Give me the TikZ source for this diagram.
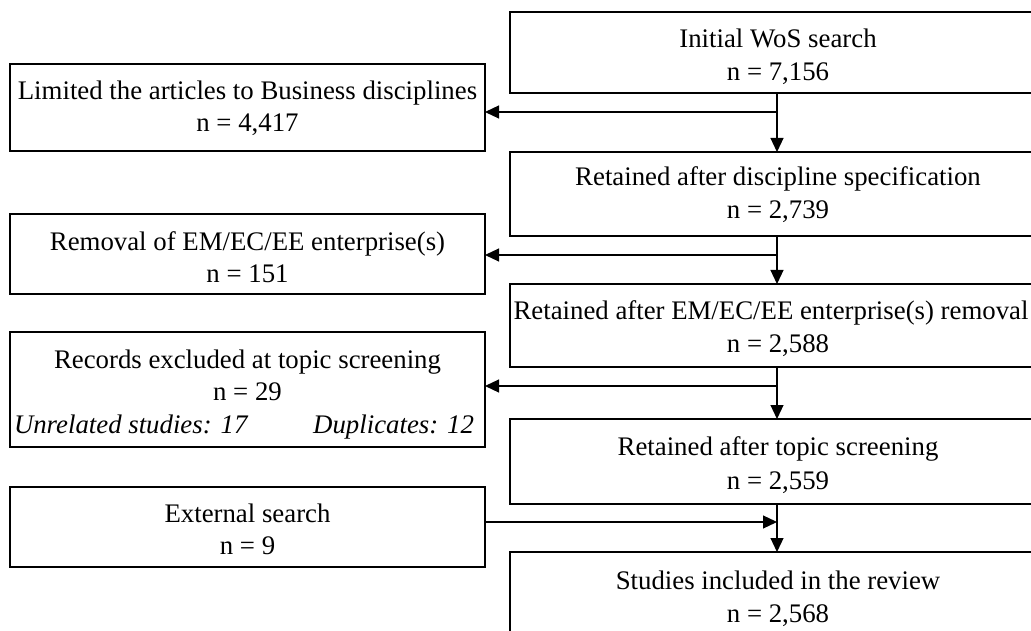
\documentclass[tikz,border=0pt]{standalone}
\usepackage{fontspec}
\setmainfont{Liberation Serif}
\usetikzlibrary{arrows.meta}
\begin{document}
\begin{tikzpicture}[x=1pt, y=-1pt,
  box/.style={draw=black, line width=1.2pt, inner sep=0pt, outer sep=0pt},
  rbox/.style={box, minimum width=534pt},
  lbox/.style={box, minimum width=475pt},
  txt/.style={inner sep=0pt, outer sep=0pt, anchor=base, font=\fontsize{26.8pt}{33pt}\selectfont},
  note/.style={txt, font=\fontsize{26.8pt}{33pt}\selectfont\itshape},
  flow/.style={line width=1.2pt, -{Triangle[length=14pt,width=13pt]}},
]
\useasboundingbox (0,0) rectangle (1031,631);
\clip (0,0) rectangle (1031,631);

% main column
\node[rbox, minimum height=81pt] (R1) at (777,52.5) {};
\node[rbox, minimum height=84pt] (R2) at (777,194) {};
\node[rbox, minimum height=83pt] (R3) at (777,325.5) {};
\node[rbox, minimum height=85pt] (R4) at (777,461.5) {};
\node[rbox, minimum height=81pt] (R5) at (777,592.5) {};

\node[txt] (R1a) at ([xshift=1pt,yshift=-36pt]R1.north) {Initial WoS search};
\node[txt] (R1b) at ([xshift=1pt,yshift=-69pt]R1.north) {n = 7,156};
\node[txt] (R2a) at ([xshift=1pt,yshift=-34pt]R2.north) {Retained after discipline specification};
\node[txt] (R2b) at ([xshift=1pt,yshift=-67pt]R2.north) {n = 2,739};
\node[txt] (R3a) at ([xshift=-6pt,yshift=-35pt]R3.north) {Retained after EM/EC/EE enterprise(s) removal};
\node[txt] (R3b) at ([xshift=1pt,yshift=-68pt]R3.north) {n = 2,588};
\node[txt] (R4a) at ([xshift=1pt,yshift=-36pt]R4.north) {Retained after topic screening};
\node[txt] (R4b) at ([xshift=1pt,yshift=-70pt]R4.north) {n = 2,559};
\node[txt] (R5a) at ([xshift=1pt,yshift=-37pt]R5.north) {Studies included in the review};
\node[txt] (R5b) at ([xshift=1pt,yshift=-70pt]R5.north) {n = 2,568};

% side column
\node[lbox, minimum height=87pt] (L1) at (247.5,107.5) {};
\node[lbox, minimum height=80pt] (L2) at (247.5,254) {};
\node[lbox, minimum height=115pt] (L3) at (247.5,389.5) {};
\node[lbox, minimum height=80pt] (L4) at (247.5,527) {};

\node[txt] (L1a) at ([yshift=-36pt]L1.north) {Limited the articles to Business disciplines};
\node[txt] (L1b) at ([yshift=-68pt]L1.north) {n = 4,417};
\node[txt] (L2a) at ([yshift=-37pt]L2.north) {Removal of EM/EC/EE enterprise(s)};
\node[txt] (L2b) at ([yshift=-68pt]L2.north) {n = 151};
\node[txt] (L3a) at ([yshift=-36pt]L3.north) {Records excluded at topic screening};
\node[txt] (L3b) at ([yshift=-68pt]L3.north) {n = 29};
\node[note, anchor=base west] (L3c) at ([xshift=4pt,yshift=-101pt]L3.north west) {Unrelated studies: 17};
\node[note, anchor=base east] (L3d) at ([xshift=-11pt,yshift=-101pt]L3.north east) {Duplicates: 12};
\node[txt] (L4a) at ([yshift=-35pt]L4.north) {External search};
\node[txt] (L4b) at ([yshift=-67pt]L4.north) {n = 9};

% branch points on the main line
\coordinate (j1) at (777,112);
\coordinate (j2) at (777,255);
\coordinate (j3) at (777,386);
\coordinate (j4) at (777,522);

% connectors
\draw[flow] (R1.south) -- (R2.north);
\draw[flow] (R2.south) -- (R3.north);
\draw[flow] (R3.south) -- (R4.north);
\draw[flow] (R4.south) -- (R5.north);

\draw[flow] (j1) -- (j1 -| L1.east);
\draw[flow] (j2) -- (j2 -| L2.east);
\draw[flow] (j3) -- (j3 -| L3.east);
\draw[flow] (L4.east |- j4) -- (j4);
\end{tikzpicture}
\end{document}
